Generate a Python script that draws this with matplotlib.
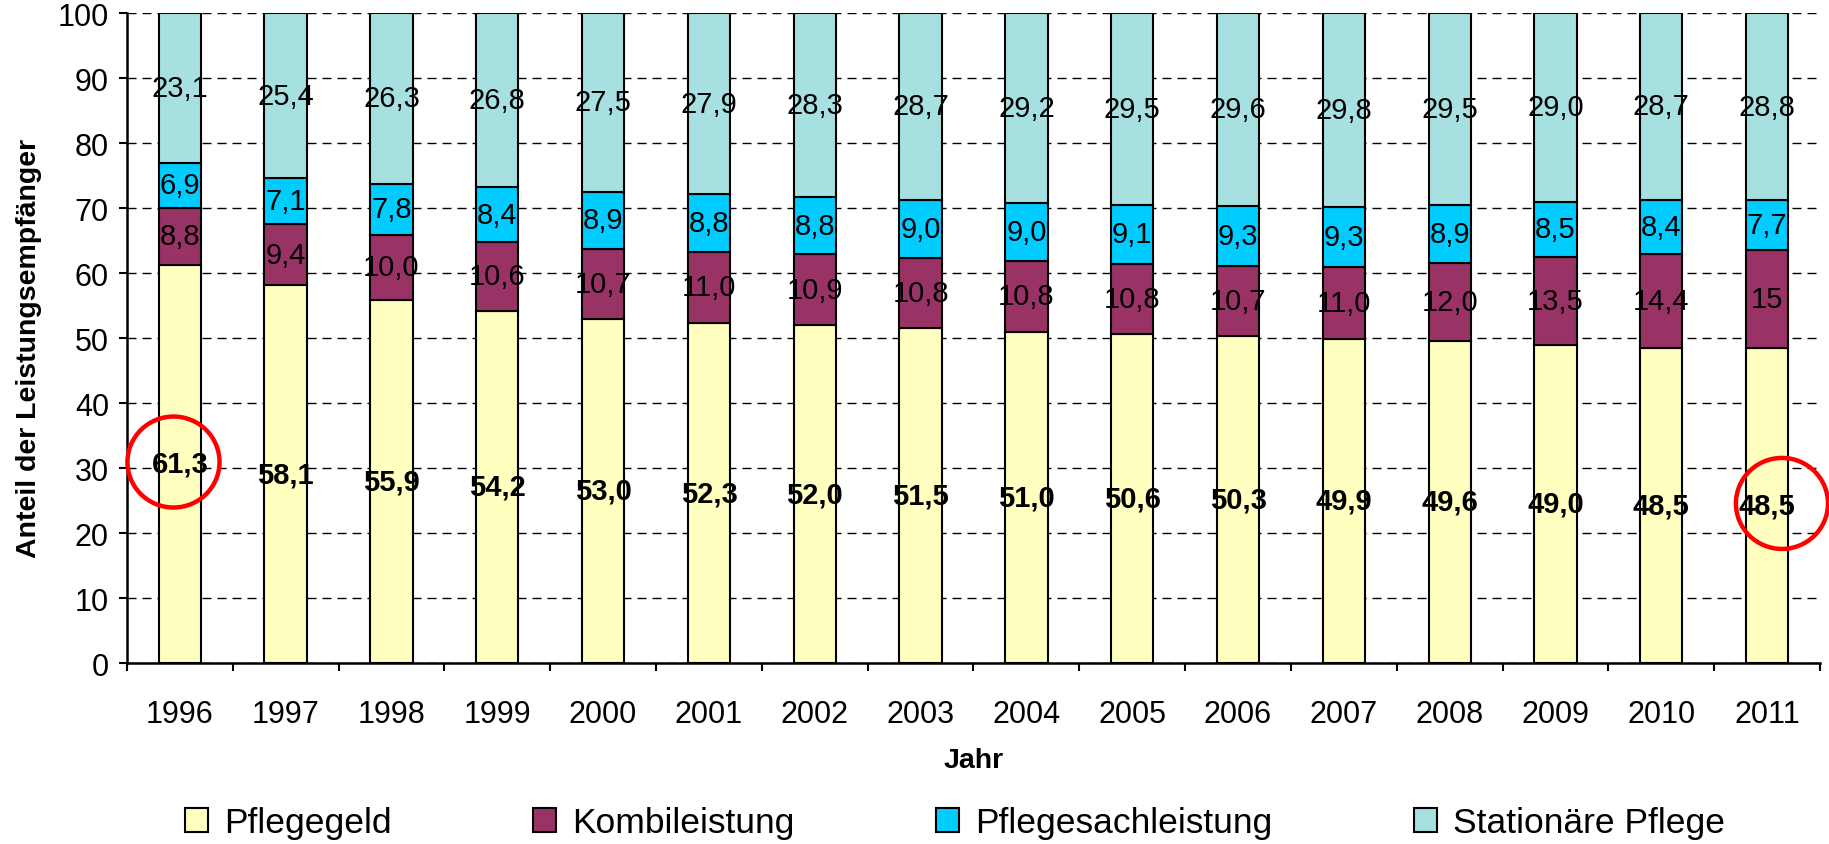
import matplotlib
matplotlib.use("Agg")
import matplotlib.pyplot as plt
from matplotlib.patches import Ellipse
import numpy as np

plt.rcParams["font.family"] = ["Liberation Sans", "DejaVu Sans"]

# ─── Data ─────────────────────────────────────────────────────────────────────
years = ["1996", "1997", "1998", "1999", "2000", "2001", "2002", "2003",
         "2004", "2005", "2006", "2007", "2008", "2009", "2010", "2011"]
pflegegeld = [61.3, 58.1, 55.9, 54.2, 53.0, 52.3, 52.0, 51.5,
              51.0, 50.6, 50.3, 49.9, 49.6, 49.0, 48.5, 48.5]
kombi = [8.8, 9.4, 10.0, 10.6, 10.7, 11.0, 10.9, 10.8,
         10.8, 10.8, 10.7, 11.0, 12.0, 13.5, 14.4, 15]
sach = [6.9, 7.1, 7.8, 8.4, 8.9, 8.8, 8.8, 9.0,
        9.0, 9.1, 9.3, 9.3, 8.9, 8.5, 8.4, 7.7]
stationaer = [23.1, 25.4, 26.3, 26.8, 27.5, 27.9, 28.3, 28.7,
              29.2, 29.5, 29.6, 29.8, 29.5, 29.0, 28.7, 28.8]
series_names = ["Pflegegeld", "Kombileistung", "Pflegesachleistung", "Stationäre Pflege"]

# highlighted labels (index of year)
circled = [0, 15]

# ─── Style ────────────────────────────────────────────────────────────────────
COLORS = ["#FFFFC0", "#993366", "#00CCFF", "#A6E0E0"]
FS_TICK = 22
FS_VAL = 21

def fmt(v):
    if isinstance(v, int):
        return str(v)
    return f"{v:.1f}".replace(".", ",")

fig = plt.figure(figsize=(18.29, 8.45), dpi=100)
ax = fig.add_axes([0.0694, 0.2142, 0.9257, 0.7692])

x = np.arange(len(years))
data = np.array([pflegegeld, kombi, sach, stationaer], dtype=float)
share = data / data.sum(axis=0) * 100  # 100 % stacked like the original

bottom = np.zeros(len(years))
handles = []
for k, (name, col) in enumerate(zip(series_names, COLORS)):
    bars = ax.bar(x, share[k], 0.4, bottom=bottom, color=col,
                  edgecolor="black", linewidth=1.5, label=name, zorder=3)
    handles.append(bars)
    raw = [pflegegeld, kombi, sach, stationaer][k]
    for i in range(len(years)):
        ax.text(x[i], bottom[i] + share[k][i] / 2, fmt(raw[i]),
                ha="center", va="center", fontsize=FS_VAL,
                fontweight="bold" if k == 0 else "normal", zorder=5)
    bottom += share[k]

# red hand-drawn circles around first and last Pflegegeld value
for i, dx in zip(circled, [-0.06, 0.14]):
    ax.add_patch(Ellipse((x[i] + dx, share[0][i] / 2 + 0.3), 0.87, 14.0,
                         fill=False, edgecolor="#FF0000", linewidth=3.2,
                         zorder=6, clip_on=False))

# ─── Axes ─────────────────────────────────────────────────────────────────────
ax.set_xlim(-0.5, len(years) - 0.5)
ax.set_ylim(0, 100)
ax.set_yticks(np.arange(0, 101, 10))
ax.tick_params(axis="y", labelsize=FS_TICK, length=6, width=1.5,
               direction="out", pad=7)

ax.set_xticks(np.arange(-0.5, len(years), 1.0))
ax.set_xticklabels([])
ax.set_xticks(x, minor=True)
ax.set_xticklabels(years, minor=True)
ax.tick_params(axis="x", which="major", length=6, width=1.5, direction="out")
ax.tick_params(axis="x", which="minor", length=0, labelsize=FS_TICK, pad=26)

for s in ["top", "right"]:
    ax.spines[s].set_visible(False)
for s in ["left", "bottom"]:
    ax.spines[s].set_linewidth(1.8)

ax.yaxis.grid(True, linestyle=(0, (6.5, 4.3)), color="black", linewidth=1.0)
ax.set_axisbelow(True)

ax.set_xlabel("Jahr", fontsize=20.5, fontweight="bold")
ax.xaxis.set_label_coords(0.5, -0.13)
ax.set_ylabel("Anteil der Leistungsempfänger", fontsize=20.5, fontweight="bold")
ax.yaxis.set_label_coords(-0.05, 0.485)

fig.legend(handles=handles, labels=series_names, loc="center",
           bbox_to_anchor=(0.522, 0.025), ncol=4, frameon=False,
           fontsize=25.5, handlelength=0.65, handleheight=0.65,
           handletextpad=0.45, columnspacing=4.0)

fig.savefig("out.png", dpi=100, facecolor="white")
